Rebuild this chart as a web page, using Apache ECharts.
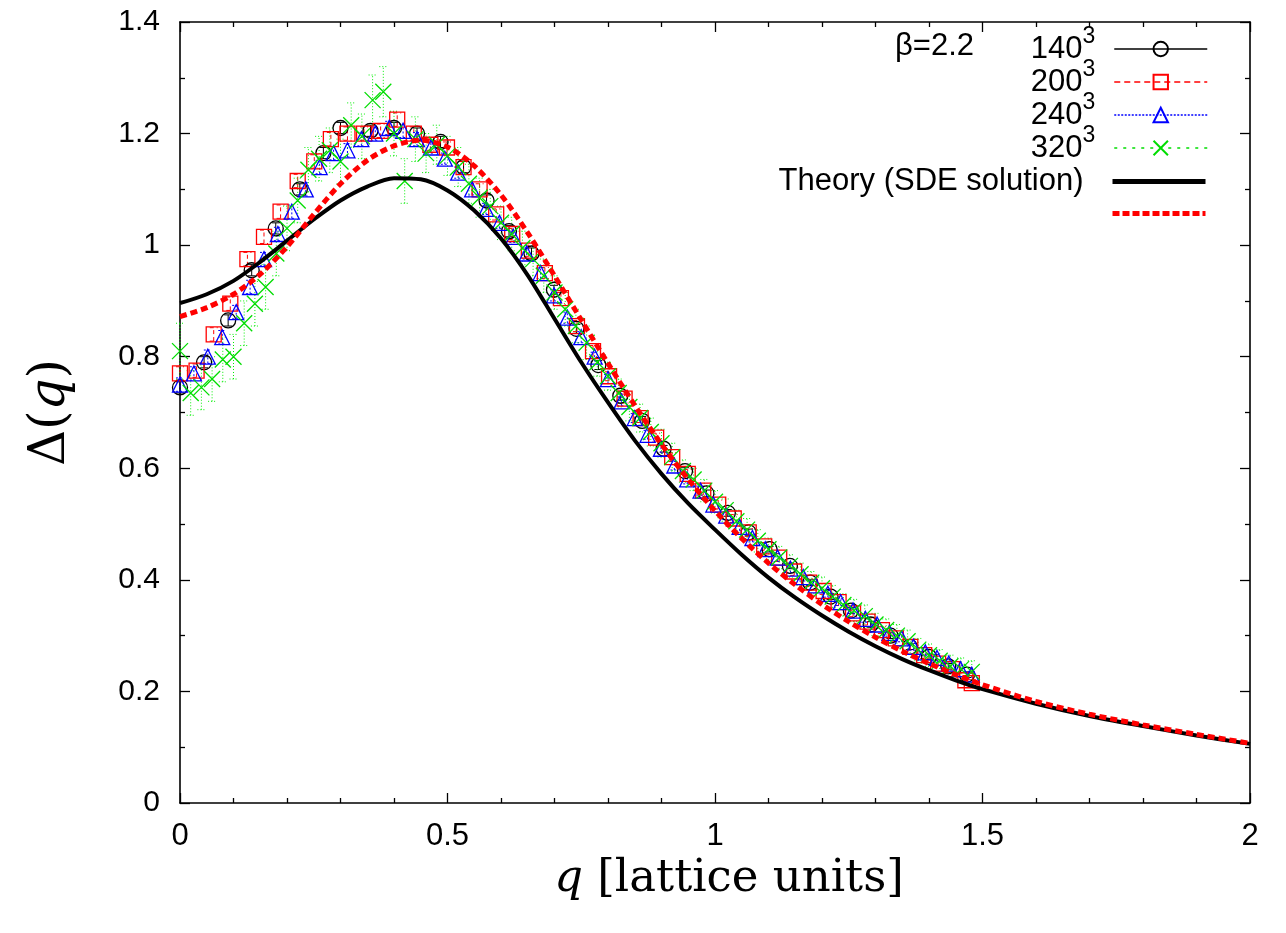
<!DOCTYPE html>
<html>
<head>
<meta charset="utf-8">
<script src="https://cdn.jsdelivr.net/npm/echarts@6/dist/echarts.min.js"></script>
<style>
html,body{margin:0;padding:0;background:#fff;}
#chart{width:1286px;height:933px;}
</style>
</head>
<body>
<div id="chart"></div>
<script>
// ---- data: [q, Delta(q), error] ----
const d140 = [
[0,0.745,0.01],[0.045,0.79,0.01],[0.09,0.865,0.01],[0.134,0.955,0.01],[0.179,1.03,0.01],[0.224,1.10,0.01],
[0.268,1.165,0.01],[0.30,1.21,0.01],[0.356,1.205,0.01],[0.40,1.21,0.01],[0.443,1.20,0.01],[0.487,1.185,0.01],
[0.53,1.14,0.01],[0.573,1.08,0.01],[0.615,1.025,0.01],[0.657,0.985,0.01],[0.699,0.92,0.008],[0.741,0.85,0.008],
[0.782,0.785,0.008],[0.823,0.73,0.008],[0.864,0.685,0.008],[0.904,0.635,0.006],[0.944,0.595,0.006],[0.984,0.555,0.006],
[1.024,0.52,0.006],[1.063,0.485,0.006],[1.102,0.455,0.005],[1.14,0.425,0.005],[1.178,0.395,0.005],[1.216,0.37,0.005],
[1.254,0.345,0.005],[1.291,0.32,0.005],[1.328,0.30,0.005],[1.364,0.28,0.005],[1.40,0.262,0.005],[1.436,0.245,0.005],[1.471,0.23,0.005]
];
const d200 = [
[0,0.77,0.012],[0.031,0.775,0.012],[0.063,0.84,0.012],[0.094,0.895,0.012],[0.126,0.975,0.012],[0.157,1.015,0.012],
[0.188,1.06,0.012],[0.22,1.115,0.012],[0.251,1.15,0.012],[0.282,1.19,0.012],[0.313,1.20,0.012],[0.344,1.20,0.012],
[0.375,1.205,0.012],[0.406,1.225,0.012],[0.437,1.20,0.012],[0.468,1.18,0.01],[0.499,1.175,0.01],[0.53,1.14,0.01],
[0.56,1.10,0.01],[0.591,1.055,0.01],[0.621,1.02,0.01],[0.652,0.99,0.01],[0.682,0.95,0.01],[0.712,0.905,0.01],
[0.742,0.855,0.01],[0.772,0.81,0.01],[0.802,0.765,0.008],[0.831,0.725,0.008],[0.861,0.69,0.008],[0.89,0.655,0.008],
[0.92,0.62,0.008],[0.949,0.59,0.008],[0.978,0.56,0.008],[1.006,0.535,0.008],[1.035,0.51,0.007],[1.063,0.485,0.007],
[1.092,0.46,0.007],[1.12,0.44,0.007],[1.148,0.415,0.007],[1.176,0.395,0.007],[1.203,0.38,0.006],[1.231,0.36,0.006],
[1.258,0.34,0.006],[1.285,0.325,0.006],[1.312,0.31,0.006],[1.338,0.295,0.006],[1.365,0.28,0.006],[1.391,0.265,0.006],
[1.417,0.25,0.006],[1.443,0.24,0.006],[1.468,0.22,0.006],[1.48,0.215,0.006]
];
const d240 = [
[0,0.75,0.012],[0.026,0.77,0.012],[0.052,0.80,0.012],[0.079,0.835,0.012],[0.105,0.88,0.012],[0.131,0.925,0.012],
[0.157,0.975,0.012],[0.183,1.02,0.012],[0.209,1.06,0.012],[0.235,1.10,0.012],[0.261,1.14,0.012],[0.287,1.165,0.012],
[0.313,1.17,0.012],[0.339,1.19,0.012],[0.365,1.20,0.012],[0.391,1.21,0.012],[0.417,1.205,0.012],[0.443,1.19,0.012],
[0.469,1.175,0.01],[0.495,1.155,0.01],[0.52,1.13,0.01],[0.546,1.10,0.01],[0.572,1.065,0.01],[0.597,1.04,0.01],
[0.623,1.015,0.01],[0.648,0.985,0.01],[0.674,0.95,0.01],[0.699,0.91,0.01],[0.724,0.87,0.01],[0.75,0.835,0.01],
[0.775,0.80,0.008],[0.8,0.76,0.008],[0.825,0.72,0.008],[0.85,0.69,0.008],[0.874,0.66,0.008],[0.899,0.635,0.008],
[0.924,0.605,0.008],[0.948,0.58,0.008],[0.973,0.56,0.008],[0.997,0.535,0.008],[1.021,0.515,0.007],[1.046,0.495,0.007],
[1.07,0.475,0.007],[1.094,0.455,0.007],[1.117,0.44,0.007],[1.141,0.42,0.007],[1.165,0.405,0.007],[1.188,0.39,0.007],
[1.211,0.375,0.006],[1.235,0.36,0.006],[1.258,0.345,0.006],[1.281,0.33,0.006],[1.303,0.32,0.006],[1.326,0.305,0.006],
[1.349,0.295,0.006],[1.371,0.28,0.006],[1.393,0.27,0.006],[1.415,0.26,0.006],[1.437,0.25,0.006],[1.459,0.24,0.006],[1.48,0.23,0.006]
];
const d320 = [
[0,0.81,0.05],[0.02,0.735,0.04],[0.04,0.745,0.04],[0.06,0.76,0.04],[0.08,0.795,0.04],[0.10,0.80,0.04],
[0.12,0.86,0.04],[0.14,0.895,0.04],[0.16,0.925,0.04],[0.18,0.985,0.04],[0.20,1.03,0.04],[0.22,1.08,0.04],
[0.24,1.135,0.04],[0.26,1.155,0.04],[0.28,1.17,0.04],[0.30,1.15,0.04],[0.32,1.215,0.04],[0.34,1.195,0.04],
[0.36,1.26,0.045],[0.38,1.275,0.045],[0.40,1.20,0.04],[0.42,1.115,0.04],[0.44,1.19,0.04],[0.46,1.165,0.035],
[0.48,1.18,0.035],[0.50,1.16,0.035],[0.52,1.14,0.035],[0.54,1.11,0.035],[0.56,1.085,0.035],[0.58,1.07,0.03],
[0.60,1.04,0.03],[0.62,1.02,0.03],[0.64,0.995,0.03],[0.66,0.975,0.03],[0.68,0.945,0.03],[0.70,0.915,0.03],
[0.72,0.885,0.03],[0.74,0.855,0.03],[0.76,0.825,0.03],[0.78,0.79,0.025],[0.80,0.765,0.025],[0.82,0.735,0.025],
[0.84,0.71,0.025],[0.86,0.69,0.025],[0.88,0.665,0.025],[0.90,0.645,0.025],[0.92,0.62,0.025],[0.94,0.595,0.02],
[0.96,0.58,0.02],[0.98,0.56,0.02],[1.00,0.54,0.02],[1.02,0.525,0.02],[1.04,0.505,0.02],[1.06,0.49,0.02],
[1.08,0.47,0.02],[1.10,0.455,0.02],[1.12,0.44,0.02],[1.14,0.425,0.02],[1.16,0.41,0.02],[1.18,0.395,0.02],
[1.20,0.385,0.02],[1.22,0.37,0.02],[1.24,0.355,0.02],[1.26,0.345,0.02],[1.28,0.335,0.02],[1.30,0.32,0.02],
[1.32,0.31,0.02],[1.34,0.30,0.02],[1.36,0.29,0.02],[1.38,0.275,0.02],[1.40,0.265,0.02],[1.42,0.255,0.02],
[1.44,0.245,0.02],[1.46,0.24,0.02],[1.48,0.235,0.02]
];
// Theory curves [q, Delta]
const theorySDE = [
[0,0.896],[0.05,0.912],[0.1,0.936],[0.15,0.97],[0.2,1.008],[0.25,1.046],[0.3,1.08],[0.35,1.105],[0.4,1.12],
[0.45,1.118],[0.5,1.098],[0.55,1.062],[0.6,1.012],[0.65,0.946],[0.7,0.868],[0.75,0.79],[0.8,0.718],[0.85,0.65],
[0.9,0.59],[0.95,0.537],[1.0,0.49],[1.05,0.445],[1.1,0.404],[1.15,0.368],[1.2,0.336],[1.25,0.307],[1.3,0.281],
[1.35,0.258],[1.4,0.238],[1.45,0.22],[1.5,0.204],[1.6,0.178],[1.7,0.156],[1.8,0.138],[1.9,0.121],[2.0,0.106]
];
const theory2 = [
[0,0.872],[0.05,0.888],[0.1,0.912],[0.15,0.948],[0.2,0.997],[0.25,1.055],[0.3,1.11],[0.35,1.152],[0.4,1.178],
[0.45,1.188],[0.5,1.176],[0.55,1.142],[0.6,1.09],[0.65,1.022],[0.7,0.945],[0.75,0.866],[0.8,0.788],[0.85,0.713],
[0.9,0.643],[0.95,0.58],[1.0,0.524],[1.05,0.474],[1.1,0.43],[1.15,0.391],[1.2,0.356],[1.25,0.325],[1.3,0.297],
[1.35,0.272],[1.4,0.25],[1.45,0.23],[1.5,0.212],[1.6,0.182],[1.7,0.159],[1.8,0.14],[1.9,0.123],[2.0,0.107]
];
const xTicks = [0, 0.5, 1, 1.5, 2];
const yTicks = [0, 0.2, 0.4, 0.6, 0.8, 1, 1.2, 1.4];
const latticeNames = ['140', '200', '240', '320'];
const theoryNames = ['Theory (SDE solution)', ' '];
const betaLabel = 'β=2.2';

const chart = echarts.init(document.getElementById('chart'), null, {renderer: 'canvas'});

function errSeries(data, color, dash) {
  return {
    type: 'custom',
    data: data,
    encode: {x: 0, y: 1},
    silent: true,
    z: 2,
    renderItem: function (params, api) {
      const x = api.value(0), y = api.value(1), e = api.value(2);
      const lo = api.coord([x, y - e]);
      const hi = api.coord([x, y + e]);
      const st = {stroke: color, lineWidth: 1, lineDash: dash};
      return {
        type: 'group',
        children: [
          {type: 'line', shape: {x1: lo[0], y1: lo[1], x2: hi[0], y2: hi[1]}, style: st},
          {type: 'line', shape: {x1: lo[0] - 4, y1: lo[1], x2: lo[0] + 4, y2: lo[1]}, style: st},
          {type: 'line', shape: {x1: hi[0] - 4, y1: hi[1], x2: hi[0] + 4, y2: hi[1]}, style: st}
        ]
      };
    }
  };
}
function markSeries(name, data, symbol, size, color) {
  return {
    name: name,
    type: 'line',
    data: data.map(d => [d[0], d[1]]),
    symbol: symbol,
    symbolSize: size,
    showSymbol: true,
    showAllSymbol: true,
    lineStyle: {opacity: 0, width: 0},
    itemStyle: {color: 'rgba(0,0,0,0)', borderColor: color, borderWidth: 1.3},
    z: 3,
    silent: true
  };
}
const xPath = 'path://M0,0L10,10M10,0L0,10';
const sans = '"Liberation Sans", Arial, Helvetica, sans-serif';
const serif = '"DejaVu Serif", "Liberation Serif", serif';

function boxAxis(extra) {
  return Object.assign({
    type: 'value',
    axisLine: {show: true, onZero: false, lineStyle: {color: '#000', width: 1.6}},
    axisTick: {show: true, inside: true, length: 10, lineStyle: {color: '#000', width: 1.3}},
    minorTick: {show: true, length: 5, lineStyle: {color: '#000', width: 1.3}},
    splitLine: {show: false}
  }, extra);
}

const option = {
  animation: false,
  backgroundColor: '#fff',
  grid: {left: 180, right: 36, top: 22, bottom: 130, containLabel: false},
  xAxis: [
    boxAxis({
      min: 0, max: 2, interval: 0.5, position: 'bottom',
      minorTick: {show: true, splitNumber: 5, length: 5, lineStyle: {color: '#000', width: 1.3}},
      axisLabel: {
        margin: 18, fontFamily: sans, fontSize: 31, color: '#000',
        formatter: v => (xTicks.indexOf(v) >= 0 ? String(v) : '')
      },
      name: '{i|q} [lattice units]',
      nameLocation: 'middle', nameGap: 52,
      nameTextStyle: {
        fontFamily: serif, fontSize: 45, color: '#000', padding: [0, 0, 0, 28],
        rich: {i: {fontFamily: serif, fontStyle: 'italic', fontSize: 45, color: '#000'}}
      }
    }),
    boxAxis({
      min: 0, max: 2, interval: 0.5, position: 'top',
      minorTick: {show: true, splitNumber: 5, length: 5, lineStyle: {color: '#000', width: 1.3}},
      axisLabel: {show: false}
    })
  ],
  yAxis: [
    boxAxis({
      min: 0, max: 1.4, interval: 0.2, position: 'left',
      minorTick: {show: true, splitNumber: 2, length: 5, lineStyle: {color: '#000', width: 1.3}},
      axisLabel: {
        margin: 20, fontFamily: sans, fontSize: 30, color: '#000',
        formatter: v => { const r = Math.round(v * 10) / 10; return yTicks.indexOf(r) >= 0 ? String(r) : ''; }
      },
      name: '{r|Δ(}{i|q}{r|)}',
      nameLocation: 'middle', nameGap: 104, nameRotate: 90,
      nameTextStyle: {
        rich: {
          r: {fontFamily: serif, fontSize: 50, color: '#000'},
          i: {fontFamily: serif, fontStyle: 'italic', fontSize: 50, color: '#000'}
        }
      }
    }),
    boxAxis({
      min: 0, max: 1.4, interval: 0.2, position: 'right',
      minorTick: {show: true, splitNumber: 2, length: 5, lineStyle: {color: '#000', width: 1.3}},
      axisLabel: {show: false}
    })
  ],
  legend: [
    {
      orient: 'vertical',
      right: 73, top: 20,
      align: 'right',
      itemWidth: 93, itemHeight: 18, itemGap: -7,
      selectedMode: false,
      formatter: name => '{n|' + name + '}{s|3}',
      textStyle: {
        width: 345, align: 'right',
        rich: {
          n: {fontFamily: sans, fontSize: 31, color: '#000', lineHeight: 32, verticalAlign: 'bottom'},
          s: {fontFamily: sans, fontSize: 23, color: '#000', lineHeight: 22, verticalAlign: 'bottom', padding: [0, 14, 17, 0]}
        }
      },
      data: [
        {name: latticeNames[0], lineStyle: {color: '#000', width: 1.5, type: 'solid', opacity: 1}},
        {name: latticeNames[1], lineStyle: {color: '#ff0000', width: 1.5, type: [6, 4], opacity: 1}},
        {name: latticeNames[2], lineStyle: {color: '#0000ff', width: 1.5, type: [2, 1.5], opacity: 1}},
        {name: latticeNames[3], lineStyle: {color: '#00dd00', width: 1.5, type: [3, 6], opacity: 1}}
      ]
    },
    {
      orient: 'vertical',
      right: 73, top: 161,
      align: 'right',
      itemWidth: 93, itemHeight: 18, itemGap: 1,
      selectedMode: false,
      formatter: name => '{t|' + name + '}',
      textStyle: {
        width: 345, align: 'right',
        rich: {
          t: {fontFamily: sans, fontSize: 31, color: '#000', lineHeight: 31, padding: [0, 24, 0, 0]}
        }
      },
      data: [
        {name: theoryNames[0], itemStyle: {opacity: 0}, lineStyle: {color: '#000', width: 5, type: 'solid', opacity: 1}},
        {name: theoryNames[1], itemStyle: {opacity: 0}, lineStyle: {color: '#ff0000', width: 5, type: [7, 3], opacity: 1}}
      ]
    }
  ],
  graphic: [
    {type: 'text', left: 895, top: 31, style: {text: betaLabel, font: '31px "Liberation Sans", Arial, sans-serif', fill: '#000'}}
  ],
  series: [
    errSeries(d140, '#000', null),
    markSeries(latticeNames[0], d140, 'circle', 15, '#000'),
    errSeries(d200, '#ff0000', [4, 3]),
    markSeries(latticeNames[1], d200, 'rect', 15, '#ff0000'),
    errSeries(d240, '#0000ff', [2, 2]),
    markSeries(latticeNames[2], d240, 'triangle', 15, '#0000ff'),
    errSeries(d320, '#00ee00', [1, 2]),
    markSeries(latticeNames[3], d320, xPath, 16, '#00dd00'),
    {
      name: theoryNames[0], type: 'line', data: theorySDE, smooth: 0.3, showSymbol: false, symbol: 'none',
      lineStyle: {color: '#000', width: 4}, itemStyle: {color: '#000'}, z: 5, silent: true
    },
    {
      name: theoryNames[1], type: 'line', data: theory2, smooth: 0.3, showSymbol: false, symbol: 'none',
      lineStyle: {color: '#ff0000', width: 5, type: [7, 4]}, itemStyle: {color: '#ff0000'}, z: 6, silent: true
    }
  ]
};
chart.setOption(option);
</script>
</body>
</html>
